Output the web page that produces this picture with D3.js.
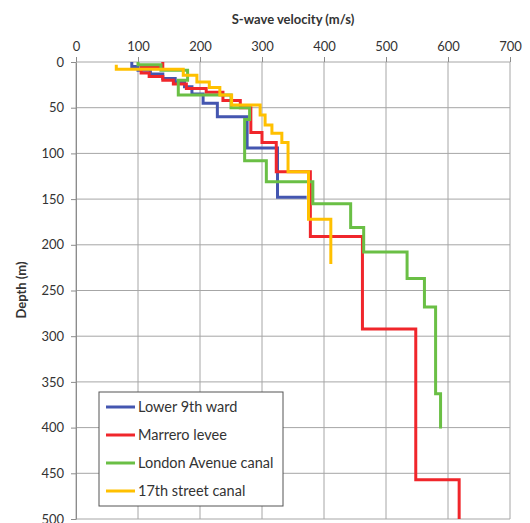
<!DOCTYPE html>
<html>
<head>
<meta charset="utf-8">
<script src="https://cdn.jsdelivr.net/npm/d3@7"></script>
<style>
  body { margin: 0; background: #fff; }
  text { font-family: Lato, "Open Sans", sans-serif; fill: #333; }
</style>
</head>
<body>
<svg id="chart"></svg>
<script>
const xTicks = [0, 100, 200, 300, 400, 500, 600, 700];
const yTicks = [0, 50, 100, 150, 200, 250, 300, 350, 400, 450, 500];

const siteNames = ['Lower 9th ward', 'Marrero levee', 'London Avenue canal', '17th street canal'];
const siteColors = ['#4456b0', '#f0262b', '#6abf45', '#ffc000'];

// layer tops (m) and velocity of each layer (m/s)
const depthL9 = [0, 5, 9, 13, 18, 22, 27, 35, 45, 60, 94, 148];
const velL9 = [90, 100, 120, 140, 160, 175, 187, 205, 228, 276, 325, 372];

const depthMarrero = [0, 6, 12, 16, 20, 24, 29, 33, 42, 50, 77, 88, 120, 191, 292, 457, 500];
const velMarrero = [140, 105, 118, 140, 157, 178, 210, 237, 265, 282, 300, 323, 378, 462, 548, 618, 618];

const depthLondon = [0, 3, 9, 20, 36, 50, 63, 108, 131, 155, 181, 208, 237, 268, 363, 401];
const velLondon = [100, 137, 180, 165, 250, 280, 272, 307, 382, 443, 464, 534, 562, 580, 588, 588];

const depth17th = [3, 8, 14.5, 22, 28, 36, 47, 58, 69, 78, 88, 120, 172, 221];
const vel17th = [65, 173, 195, 215, 232, 251, 297, 305, 316, 332, 342, 375, 411, 411];

const profiles = [
  {depth: depthL9, vel: velL9},
  {depth: depthMarrero, vel: velMarrero},
  {depth: depthLondon, vel: velLondon},
  {depth: depth17th, vel: vel17th}
];

const margin = {top: 62, bottom: 4, left: 76, right: 20};
const width = 530 - margin.left - margin.right;
const height = 523 - margin.top - margin.bottom;

const svg = d3.select('#chart')
  .attr('width', 530)
  .attr('height', 523)
  .append('g')
  .attr('transform', `translate(${margin.left}, ${margin.top})`);

const x = d3.scaleLinear().domain([0, 700]).range([0, width]);
const y = d3.scaleLinear().domain([0, 500]).range([0, height]);

// grid
svg.append('g')
  .selectAll('line')
  .data(xTicks)
  .enter()
  .append('line')
  .attr('x1', d => x(d)).attr('x2', d => x(d))
  .attr('y1', 0).attr('y2', height)
  .attr('stroke', '#a6a6a6');

svg.append('g')
  .selectAll('line')
  .data(yTicks)
  .enter()
  .append('line')
  .attr('x1', 0).attr('x2', width)
  .attr('y1', d => y(d)).attr('y2', d => y(d))
  .attr('stroke', '#a6a6a6');

// axes
const xAxis = svg.append('g')
  .call(d3.axisTop(x).tickValues(xTicks).tickSize(5).tickPadding(6).tickSizeOuter(0));
const yAxis = svg.append('g')
  .call(d3.axisLeft(y).tickValues(yTicks).tickSize(5).tickPadding(7).tickSizeOuter(0));

[xAxis, yAxis].forEach(a => {
  a.select('.domain').attr('stroke', '#8c8c8c');
  a.selectAll('.tick line').attr('stroke', '#8c8c8c');
  a.selectAll('.tick text')
    .style('font-size', '13px')
    .style('font-family', 'Lato, "Open Sans", sans-serif')
    .attr('fill', '#333');
});
xAxis.select('.domain').remove();

// step profiles
const line = d3.line()
  .x(d => x(d[0]))
  .y(d => y(d[1]))
  .curve(d3.curveStepBefore);

profiles.forEach((p, i) => {
  svg.append('path')
    .datum(p.vel.map((v, j) => [v, p.depth[j]]))
    .attr('fill', 'none')
    .attr('stroke', siteColors[i])
    .attr('stroke-width', 3)
    .attr('d', line);
});

// titles
svg.append('text')
  .attr('x', width / 2)
  .attr('y', -38)
  .attr('text-anchor', 'middle')
  .style('font-size', '13px')
  .style('font-weight', 'bold')
  .text('S-wave velocity (m/s)');

svg.append('text')
  .attr('transform', 'rotate(-90)')
  .attr('x', -(290 - margin.top))
  .attr('y', -50)
  .attr('text-anchor', 'middle')
  .style('font-size', '13px')
  .style('font-weight', 'bold')
  .text('Depth (m)');

// legend
const lg = svg.append('g').attr('transform', `translate(${99 - margin.left}, ${392 - margin.top})`);
lg.append('rect')
  .attr('width', 184)
  .attr('height', 114)
  .attr('fill', '#fff')
  .attr('stroke', '#555');

siteNames.forEach((n, i) => {
  const yy = 15 + i * 28;
  lg.append('line')
    .attr('x1', 7).attr('x2', 36)
    .attr('y1', yy).attr('y2', yy)
    .attr('stroke', siteColors[i])
    .attr('stroke-width', 3);
  lg.append('text')
    .attr('x', 39)
    .attr('y', yy + 5)
    .style('font-size', '14.5px')
    .text(n);
});
</script>
</body>
</html>
